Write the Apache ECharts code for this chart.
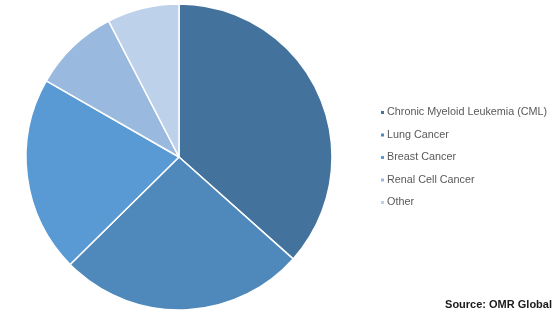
<!DOCTYPE html>
<html>
<head>
<meta charset="utf-8">
<script src="https://cdn.jsdelivr.net/npm/echarts@6/dist/echarts.min.js"></script>
<style>
  html, body { margin: 0; padding: 0; background: #ffffff; }
  #chart { width: 555px; height: 317px; }
</style>
</head>
<body>
<div id="chart"></div>
<script>
// Market share by cancer indication (%)
const categories = [
  'Chronic Myeloid Leukemia (CML)',
  'Lung Cancer',
  'Breast Cancer',
  'Renal Cell Cancer',
  'Other'
];
const shares = [36.6, 26.0, 20.7, 9.1, 7.6];
const palette = ['#43739C', '#4F88BA', '#5A9AD4', '#9AB9DE', '#BDD1EA'];
const sourceText = 'Source: OMR Global';

const chart = echarts.init(document.getElementById('chart'), null, { renderer: 'canvas' });

chart.setOption({
  animation: false,
  color: palette,
  legend: {
    orient: 'vertical',
    left: 374,
    top: 102,
    itemWidth: 5,
    itemHeight: 5,
    itemGap: 11.5,
    icon: 'rect',
    textStyle: {
      color: '#595959',
      fontFamily: 'Liberation Sans, Arial, sans-serif',
      fontSize: 10.8,
      padding: [0, 0, 0, -3]
    },
    data: categories
  },
  graphic: [{
    type: 'text',
    right: 3,
    top: 299,
    style: {
      text: sourceText,
      fill: '#1a1a1a',
      font: 'bold 11px "Liberation Sans", Arial, sans-serif'
    }
  }],
  series: [{
    type: 'pie',
    center: [179, 157],
    radius: [0, 153],
    startAngle: 90,
    clockwise: true,
    label: { show: false },
    labelLine: { show: false },
    itemStyle: { borderColor: '#ffffff', borderWidth: 1.5 },
    emphasis: { disabled: true },
    data: categories.map((name, i) => ({ name, value: shares[i] }))
  }]
});
</script>
</body>
</html>
